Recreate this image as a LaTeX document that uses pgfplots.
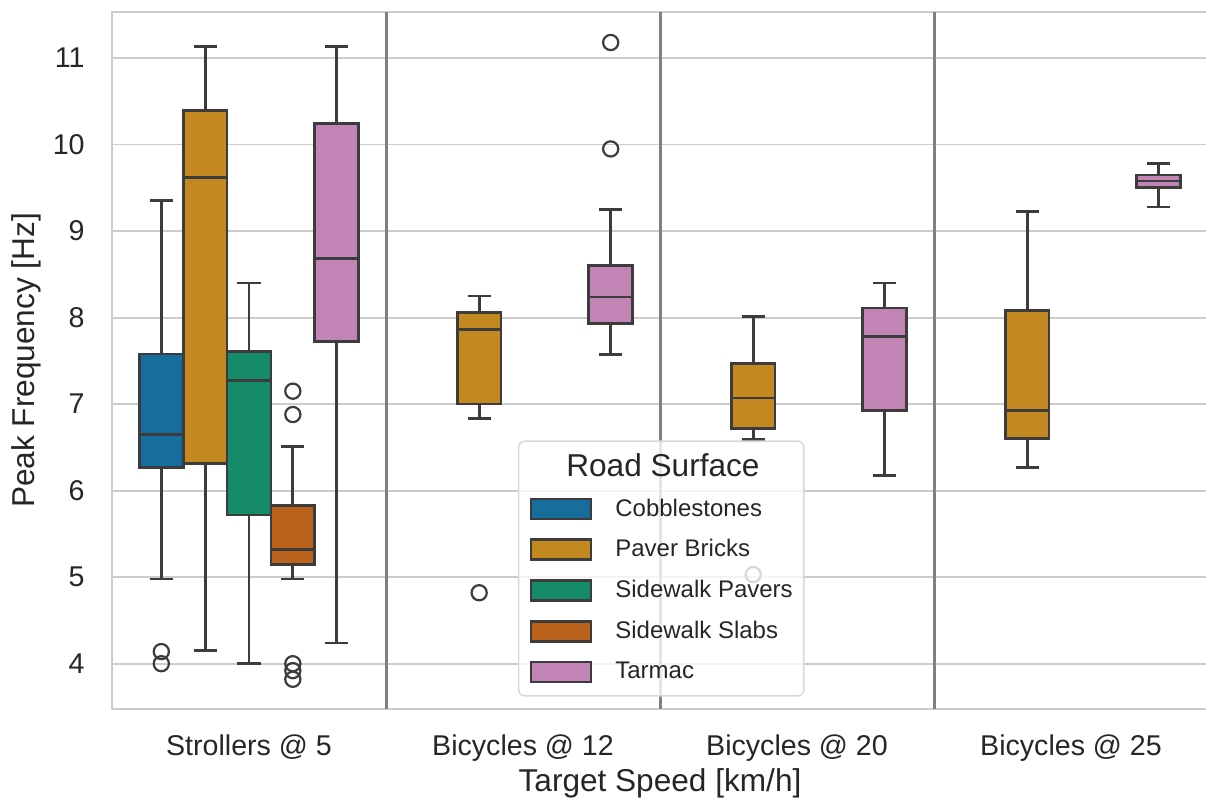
\documentclass[border=0pt]{standalone}
\usepackage{fontspec}
\setmainfont{Liberation Sans}
\usepackage{pgfplots}
\pgfplotsset{compat=1.18}
\definecolor{cobble}{HTML}{176D9C}
\definecolor{paver}{HTML}{C38820}
\definecolor{spavers}{HTML}{168B6A}
\definecolor{slabs}{HTML}{BA611B}
\definecolor{tarmac}{HTML}{C283B5}
\definecolor{edge}{HTML}{3C3C3C}
\definecolor{txt}{HTML}{262626}
\pgfplotsset{
  bx/.style={forget plot, draw=edge, fill=#1, line width=1.35pt, line join=miter, mark=none},
  wh/.style={forget plot, draw=edge, line width=1.35pt, mark=none, unbounded coords=jump},
  ol/.style={forget plot, only marks, mark=o, mark size=3.8pt, mark options={draw=edge, fill=none, line width=1.1pt, solid}},
  leg/.style={legend image code/.code={\draw[sharp corners,draw=edge,line width=1.35pt,fill=#1,fill opacity=1] (0pt,-5pt) rectangle (30pt,5pt);}},
}
\begin{document}
\begin{tikzpicture}
\begin{axis}[
  scale only axis, width=548pt, height=348.75pt,
  xmin=-0.5, xmax=3.5, ymin=3.474, ymax=11.536,
  xtick={0,1,2,3},
  xticklabels={Strollers @ 5, Bicycles @ 12, Bicycles @ 20, Bicycles @ 25},
  ytick={4,5,6,7,8,9,10,11},
  ymajorgrids=true,
  major grid style={black!20, line width=0.9pt},
  extra x ticks={0.5,1.5,2.5},
  extra x tick labels={},
  extra x tick style={xmajorgrids=true, major grid style={gray, line width=1.5pt}},
  major tick length=0pt,
  axis line style={black!20, line width=1.1pt},
  tick label style={font=\fontsize{14.3}{17}\selectfont, text=txt},
  xticklabel style={anchor=base, yshift=-23.25pt},
  yticklabel style={anchor=east, inner sep=0pt, xshift=-13.5pt},
  /pgf/number format/assume math mode=true,
  xlabel={Target Speed [km/h]},
  ylabel={Peak Frequency [Hz]},
  label style={font=\fontsize{15.8}{19}\selectfont, text=txt},
  xlabel style={at={(axis description cs:0.5,-0.1183)}, anchor=base},
  ylabel style={at={(axis description cs:-0.07026,0.5)}, anchor=base},
  legend cell align=left,
  legend style={at={(0.3703,0.018)}, anchor=south west,
    draw=black!15, line width=0.8pt, rounded corners=3pt,
    fill=white, fill opacity=0.8, text opacity=1,
    font=\fontsize{12}{14}\selectfont, text=txt,
    inner xsep=5.5pt, inner ysep=6.3pt, row sep=9pt, column sep=11.5pt,
    nodes={inner sep=0pt}},
]
% ===== Strollers @ 5 =====
% Cobblestones (pos -0.32): lw 4.98, lq 6.27, med 6.65, uq 7.58, uw 9.35
\addplot[bx=cobble] coordinates {(-0.40,6.27)(-0.24,6.27)(-0.24,7.58)(-0.40,7.58)} --cycle;
\addplot[wh] coordinates {(-0.32,7.58)(-0.32,9.35)(-0.32,nan)(-0.3625,9.35)(-0.2775,9.35)(-0.32,nan)
  (-0.32,6.27)(-0.32,4.98)(-0.32,nan)(-0.3625,4.98)(-0.2775,4.98)(-0.32,nan)(-0.40,6.65)(-0.24,6.65)};
\addplot[ol] coordinates {(-0.32,4.14)(-0.32,4.00)};
% Paver Bricks (pos -0.16): lw 4.15, lq 6.31, med 9.62, uq 10.39, uw 11.13
\addplot[bx=paver] coordinates {(-0.24,6.31)(-0.08,6.31)(-0.08,10.39)(-0.24,10.39)} --cycle;
\addplot[wh] coordinates {(-0.16,10.39)(-0.16,11.13)(-0.16,nan)(-0.2025,11.13)(-0.1175,11.13)(-0.16,nan)
  (-0.16,6.31)(-0.16,4.15)(-0.16,nan)(-0.2025,4.15)(-0.1175,4.15)(-0.16,nan)(-0.24,9.62)(-0.08,9.62)};
% Sidewalk Pavers (pos 0): lw 4.00, lq 5.72, med 7.27, uq 7.61, uw 8.40
\addplot[bx=spavers] coordinates {(-0.08,5.72)(0.08,5.72)(0.08,7.61)(-0.08,7.61)} --cycle;
\addplot[wh] coordinates {(0,7.61)(0,8.40)(0,nan)(-0.0425,8.40)(0.0425,8.40)(0,nan)
  (0,5.72)(0,4.00)(0,nan)(-0.0425,4.00)(0.0425,4.00)(0,nan)(-0.08,7.27)(0.08,7.27)};
% Sidewalk Slabs (pos 0.16): lw 4.98, lq 5.145, med 5.32, uq 5.83, uw 6.51
\addplot[bx=slabs] coordinates {(0.08,5.145)(0.24,5.145)(0.24,5.83)(0.08,5.83)} --cycle;
\addplot[wh] coordinates {(0.16,5.83)(0.16,6.51)(0.16,nan)(0.1175,6.51)(0.2025,6.51)(0.16,nan)
  (0.16,5.145)(0.16,4.98)(0.16,nan)(0.1175,4.98)(0.2025,4.98)(0.16,nan)(0.08,5.32)(0.24,5.32)};
\addplot[ol] coordinates {(0.16,7.15)(0.16,6.88)(0.16,4.00)(0.16,3.92)(0.16,3.82)};
% Tarmac (pos 0.32): lw 4.24, lq 7.72, med 8.68, uq 10.245, uw 11.13
\addplot[bx=tarmac] coordinates {(0.24,7.72)(0.40,7.72)(0.40,10.245)(0.24,10.245)} --cycle;
\addplot[wh] coordinates {(0.32,10.245)(0.32,11.13)(0.32,nan)(0.2775,11.13)(0.3625,11.13)(0.32,nan)
  (0.32,7.72)(0.32,4.24)(0.32,nan)(0.2775,4.24)(0.3625,4.24)(0.32,nan)(0.24,8.68)(0.40,8.68)};
% ===== Bicycles @ 12 =====
% Paver Bricks (pos 0.84): lw 6.83, lq 7.00, med 7.86, uq 8.06, uw 8.25
\addplot[bx=paver] coordinates {(0.76,7.00)(0.92,7.00)(0.92,8.06)(0.76,8.06)} --cycle;
\addplot[wh] coordinates {(0.84,8.06)(0.84,8.25)(0.84,nan)(0.7975,8.25)(0.8825,8.25)(0.84,nan)
  (0.84,7.00)(0.84,6.83)(0.84,nan)(0.7975,6.83)(0.8825,6.83)(0.84,nan)(0.76,7.86)(0.92,7.86)};
\addplot[ol] coordinates {(0.84,4.82)};
% Tarmac (pos 1.32): lw 7.57, lq 7.93, med 8.24, uq 8.60, uw 9.25
\addplot[bx=tarmac] coordinates {(1.24,7.93)(1.40,7.93)(1.40,8.60)(1.24,8.60)} --cycle;
\addplot[wh] coordinates {(1.32,8.60)(1.32,9.25)(1.32,nan)(1.2775,9.25)(1.3625,9.25)(1.32,nan)
  (1.32,7.93)(1.32,7.57)(1.32,nan)(1.2775,7.57)(1.3625,7.57)(1.32,nan)(1.24,8.24)(1.40,8.24)};
\addplot[ol] coordinates {(1.32,9.95)(1.32,11.18)};
% ===== Bicycles @ 20 =====
% Paver Bricks (pos 1.84): lw 6.59, lq 6.72, med 7.07, uq 7.47, uw 8.01
\addplot[bx=paver] coordinates {(1.76,6.72)(1.92,6.72)(1.92,7.47)(1.76,7.47)} --cycle;
\addplot[wh] coordinates {(1.84,7.47)(1.84,8.01)(1.84,nan)(1.7975,8.01)(1.8825,8.01)(1.84,nan)
  (1.84,6.72)(1.84,6.59)(1.84,nan)(1.7975,6.59)(1.8825,6.59)(1.84,nan)(1.76,7.07)(1.92,7.07)};
\addplot[ol] coordinates {(1.84,5.03)};
% Tarmac (pos 2.32): lw 6.175, lq 6.93, med 7.78, uq 8.11, uw 8.40
\addplot[bx=tarmac] coordinates {(2.24,6.93)(2.40,6.93)(2.40,8.11)(2.24,8.11)} --cycle;
\addplot[wh] coordinates {(2.32,8.11)(2.32,8.40)(2.32,nan)(2.2775,8.40)(2.3625,8.40)(2.32,nan)
  (2.32,6.93)(2.32,6.175)(2.32,nan)(2.2775,6.175)(2.3625,6.175)(2.32,nan)(2.24,7.78)(2.40,7.78)};
% ===== Bicycles @ 25 =====
% Paver Bricks (pos 2.84): lw 6.27, lq 6.60, med 6.93, uq 8.08, uw 9.23
\addplot[bx=paver] coordinates {(2.76,6.60)(2.92,6.60)(2.92,8.08)(2.76,8.08)} --cycle;
\addplot[wh] coordinates {(2.84,8.08)(2.84,9.23)(2.84,nan)(2.7975,9.23)(2.8825,9.23)(2.84,nan)
  (2.84,6.60)(2.84,6.27)(2.84,nan)(2.7975,6.27)(2.8825,6.27)(2.84,nan)(2.76,6.93)(2.92,6.93)};
% Tarmac (pos 3.32): lw 9.28, lq 9.50, med 9.58, uq 9.65, uw 9.785
\addplot[bx=tarmac] coordinates {(3.24,9.50)(3.40,9.50)(3.40,9.65)(3.24,9.65)} --cycle;
\addplot[wh] coordinates {(3.32,9.65)(3.32,9.785)(3.32,nan)(3.2775,9.785)(3.3625,9.785)(3.32,nan)
  (3.32,9.50)(3.32,9.28)(3.32,nan)(3.2775,9.28)(3.3625,9.28)(3.32,nan)(3.24,9.58)(3.40,9.58)};
% ===== legend =====
\addlegendimage{empty legend}
\addlegendentry{\makebox[0pt][l]{\hspace*{-25pt}\fontsize{15.8}{19}\selectfont Road Surface}}
\addlegendimage{leg=cobble}
\addlegendentry{Cobblestones}
\addlegendimage{leg=paver}
\addlegendentry{Paver Bricks}
\addlegendimage{leg=spavers}
\addlegendentry{Sidewalk Pavers}
\addlegendimage{leg=slabs}
\addlegendentry{Sidewalk Slabs}
\addlegendimage{leg=tarmac}
\addlegendentry{Tarmac}
\end{axis}
\pgfresetboundingbox
\path (-56pt,-47.75pt) rectangle (547pt,354.6pt);
\end{tikzpicture}
\end{document}
